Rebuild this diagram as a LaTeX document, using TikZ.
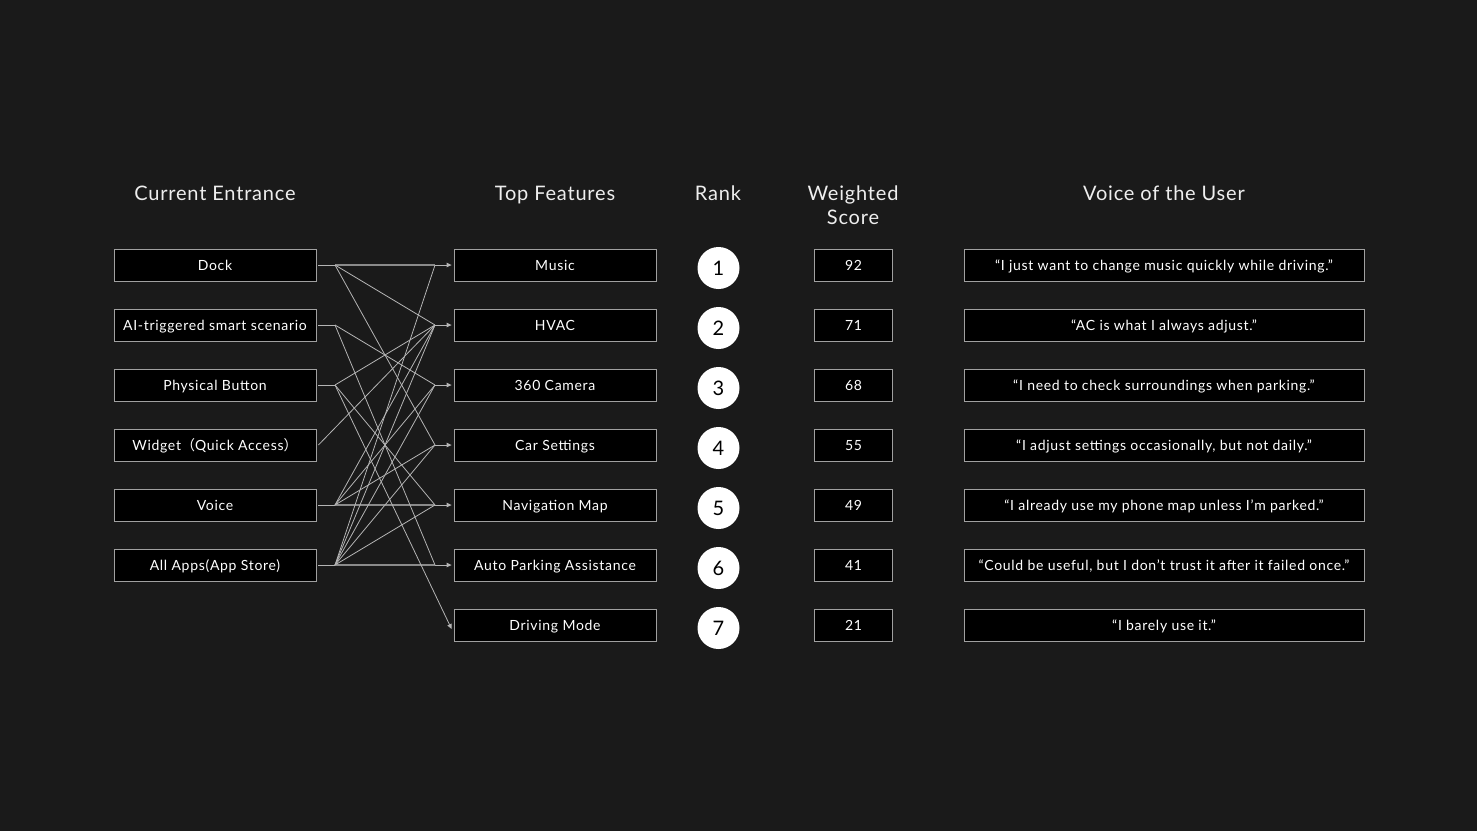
\documentclass[tikz,border=0pt]{standalone}
\usepackage{fontspec}
\setmainfont{Lato}
\newfontfamily\boxfont[LetterSpace=5]{Lato}
\newfontfamily\headfont[LetterSpace=4]{Lato}
\newfontfamily\cjkfont{Noto Sans CJK SC}
\usetikzlibrary{arrows.meta}
\definecolor{bg}{HTML}{1A1A1A}
\definecolor{boxline}{HTML}{A0A0A0}
\definecolor{hline}{HTML}{8A8A8A}
\definecolor{dline}{HTML}{B4B4B4}
\definecolor{headtxt}{HTML}{EEEEEE}
\tikzset{
  basebox/.style={draw=boxline, fill=black, line width=0.8pt, minimum height=32pt, inner sep=0pt, text height=13pt, text depth=1.5pt, text=white, font=\boxfont\fontsize{14}{16}\selectfont},
  entbox/.style={basebox, minimum width=202pt},
  featbox/.style={basebox, minimum width=202pt},
  scorebox/.style={basebox, minimum width=78pt},
  quotebox/.style={basebox, minimum width=400pt},
  rankdot/.style={circle, fill=white, minimum size=42pt, inner sep=0pt, text height=14pt, text depth=0pt, text=black, font=\headfont\fontsize{20}{22}\selectfont},
  head/.style={text=headtxt, font=\headfont\fontsize{20}{24}\selectfont, align=center, anchor=base, inner sep=0pt},
  stub/.style={draw=dline, line width=1pt},
  straight/.style={draw=hline, line width=1.4pt},
  diag/.style={draw=dline, line width=0.8pt},
  tip/.style={-{Triangle[length=5pt,width=4.5pt]}, color=dline}
}
\begin{document}
\begin{tikzpicture}[x=1pt,y=-1pt]
\fill[bg] (0,0) rectangle (1477,831);
\useasboundingbox (0,0) rectangle (1477,831);

% headers
\node[head] (h1) at (215,200) {Current Entrance};
\node[head] (h2) at (555,200) {Top Features};
\node[head] (h3) at (718,200) {Rank};
\node[head] (h4) at (853,200) {Weighted};
\node[head] (h4b) at (853,224) {Score};
\node[head] (h5) at (1164,200) {Voice of the User};

% entrances
\node[entbox] (e1) at (215,265) {Dock};
\node[entbox] (e2) at (215,325) {AI-triggered smart scenario};
\node[entbox] (e3) at (215,385) {Physical Button};
\node[entbox] (e4) at (215,445) {Widget{\cjkfont （}Quick Access{\cjkfont ）}};
\node[entbox] (e5) at (215,505) {Voice};
\node[entbox] (e6) at (215,565) {All Apps(App Store)};

% features
\node[featbox] (f1) at (555,265) {Music};
\node[featbox] (f2) at (555,325) {HVAC};
\node[featbox] (f3) at (555,385) {360 Camera};
\node[featbox] (f4) at (555,445) {Car Settings};
\node[featbox] (f5) at (555,505) {Navigation Map};
\node[featbox] (f6) at (555,565) {Auto Parking Assistance};
\node[featbox] (f7) at (555,625) {Driving Mode};

% ranks
\foreach \i in {1,...,7} {
  \node[rankdot] (r\i) at (718.5,{268+60*(\i-1)}) {\i};
}

% scores
\node[scorebox] (s1) at (853.5,265) {92};
\node[scorebox] (s2) at (853.5,325) {71};
\node[scorebox] (s3) at (853.5,385) {68};
\node[scorebox] (s4) at (853.5,445) {55};
\node[scorebox] (s5) at (853.5,505) {49};
\node[scorebox] (s6) at (853.5,565) {41};
\node[scorebox] (s7) at (853.5,625) {21};

% quotes
\node[quotebox] (q1) at (1164,265) {“I just want to change music quickly while driving.”};
\node[quotebox] (q2) at (1164,325) {“AC is what I always adjust.”};
\node[quotebox] (q3) at (1164,385) {“I need to check surroundings when parking.”};
\node[quotebox] (q4) at (1164,445) {“I adjust settings occasionally, but not daily.”};
\node[quotebox] (q5) at (1164,505) {“I already use my phone map unless I’m parked.”};
\node[quotebox] (q6) at (1164,565) {“Could be useful, but I don’t trust it after it failed once.”};
\node[quotebox] (q7) at (1164,625) {“I barely use it.”};

% fan-out and fan-in points
\foreach \i in {1,...,6} {
  \coordinate (o\i) at (335,{265+60*(\i-1)});
}
\foreach \i in {1,...,7} {
  \coordinate (i\i) at (435,{265+60*(\i-1)});
}

% stubs from entrances
\foreach \i in {1,2,3,5,6} {
  \draw[stub] ([xshift=2pt]e\i.east) -- (o\i);
}

% straight rows
\draw[straight] (o1) -- (i1);
\draw[straight] (o5) -- (i5);
\draw[straight] (o6) -- (i6);

% diagonals
\draw[diag] (o1) -- (i2);
\draw[diag] (o1) -- (i4);
\draw[diag] (o2) -- (i3);
\draw[diag] (o2) -- (i6);
\draw[diag] (o3) -- (i2);
\draw[diag] (o3) -- (i5);
\draw[diag] ([xshift=2pt]e4.east) -- (i2);
\draw[diag] (o5) -- (i2);
\draw[diag] (o5) -- (i3);
\draw[diag] (o5) -- (i4);
\draw[diag] (o6) -- (i1);
\draw[diag] (o6) -- (i2);
\draw[diag] (o6) -- (i3);
\draw[diag] (o6) -- (i4);
\draw[diag] (o6) -- (i5);

% arrows into features
\foreach \i in {1,...,6} {
  \draw[stub, tip] (i\i) -- ([xshift=-2pt]f\i.west);
}
\draw[diag, tip] (o3) -- ([xshift=-2pt,yshift=-4pt]f7.west);
\end{tikzpicture}
\end{document}
